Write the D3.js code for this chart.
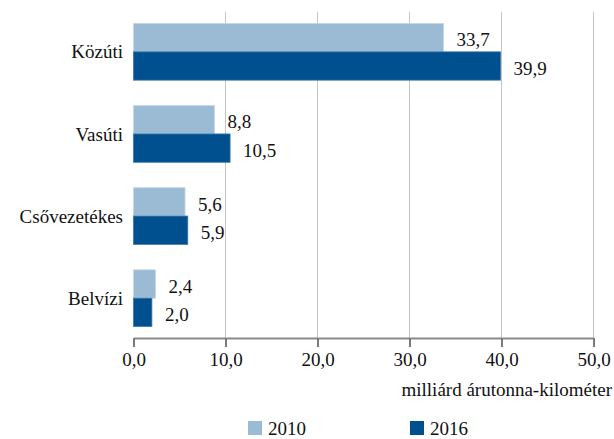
<!DOCTYPE html>
<html><head><meta charset="utf-8">
<script src="https://cdn.jsdelivr.net/npm/d3@7"></script>
</head><body style="margin:0">
<svg id="c" width="614" height="439">
<text id="axtitle" x="612" y="396" text-anchor="end" font-size="19" font-family="Liberation Serif" fill="#111">milliárd árutonna-kilométer</text>
</svg>
<script>
const categories = ["Közúti","Vasúti","Csővezetékes","Belvízi"];
const series = ["2010","2016"];
const values2010 = [33.7, 8.8, 5.6, 2.4];
const values2016 = [39.9, 10.5, 5.9, 2.0];
const ticks = [0,10,20,30,40,50];
const colors = ["#9bbbd5","#00508f"];
const axisTitle = "milliárd árutonna-kilométer";
const FONT = "Liberation Serif";

const svg = d3.select("#c");
const x = d3.scaleLinear().domain([0,50]).range([133.5,593.5]);
const y = d3.scaleBand().domain(categories).range([12,338]).paddingInner(0.31).paddingOuter(0.14);
const y2 = d3.scaleBand().domain(series).range([0,y.bandwidth()]);
const fmt = v => d3.format(".1f")(v).replace(".",",");

svg.insert("g","#axtitle").selectAll("line").data(ticks.slice(1)).join("line")
  .attr("x1",d=>x(d)).attr("x2",d=>x(d)).attr("y1",12).attr("y2",338)
  .attr("stroke","#c4c4c4").attr("stroke-width",1);

const data = [values2010, values2016];
series.forEach((s,si)=>{
  const g = svg.append("g");
  g.selectAll("rect").data(categories).join("rect")
    .attr("x",x(0)).attr("y",(c)=>y(c)+y2(s))
    .attr("width",(c,i)=>x(data[si][i])-x(0)).attr("height",y2.bandwidth())
    .attr("fill",colors[si]).attr("stroke", si? "#3a78b0":"#c3d6e6").attr("stroke-width",0.8);
  g.selectAll("text").data(categories).join("text")
    .attr("x",(c,i)=>x(data[si][i])+13).attr("y",(c)=>y(c)+y2(s)+y2.bandwidth()/2+2)
    .attr("dy","0.35em").attr("font-size",19).attr("font-family",FONT).attr("fill","#111").text((c,i)=>fmt(data[si][i]));
});

svg.append("g").selectAll("text").data(categories).join("text")
  .attr("x",123).attr("y",c=>y(c)+y.bandwidth()/2).attr("dy","0.35em")
  .attr("text-anchor","end").attr("font-size",19).attr("font-family",FONT).attr("fill","#111").text(d=>d);

const ax = svg.append("g").attr("transform","translate(0,338)")
  .call(d3.axisBottom(x).tickValues(ticks).tickFormat(fmt).tickSizeInner(9).tickSizeOuter(0).tickPadding(6));
ax.attr("font-family",FONT).attr("font-size",19);
ax.select(".domain").attr("stroke","#8a8a8a").attr("stroke-width",2);
ax.selectAll(".tick line").attr("stroke","#7a7a7a").attr("stroke-width",2);
ax.selectAll(".tick text").attr("fill","#111");

svg.select("#axtitle").text(axisTitle);

const lx = [248,410];
series.forEach((s,i)=>{
  svg.append("rect").attr("x",lx[i]).attr("y",421).attr("width",14).attr("height",14).attr("fill",colors[i]);
  svg.append("text").attr("x",lx[i]+20).attr("y",428).attr("dy","0.35em").attr("font-size",19).attr("font-family",FONT).attr("fill","#111").text(s);
});
</script>
</body></html>
